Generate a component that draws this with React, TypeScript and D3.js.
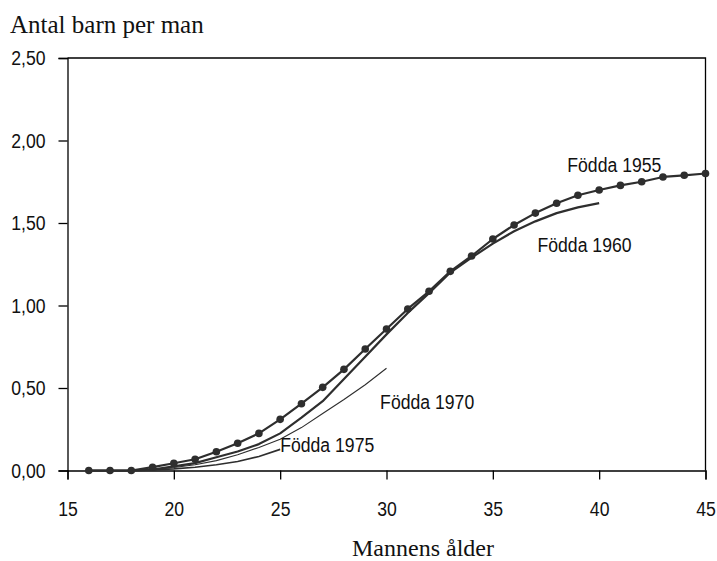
import { useEffect, useRef } from 'react';
import * as d3 from 'd3';

const ages1955 = [16, 17, 18, 19, 20, 21, 22, 23, 24, 25, 26, 27, 28, 29, 30, 31, 32, 33, 34, 35, 36, 37, 38, 39, 40, 41, 42, 43, 44, 45];
const values1955 = [0, 0, 0, 0.02, 0.044, 0.068, 0.114, 0.165, 0.225, 0.31, 0.405, 0.504, 0.613, 0.736, 0.858, 0.979, 1.086, 1.207, 1.3, 1.403, 1.488, 1.56, 1.62, 1.668, 1.7, 1.728, 1.75, 1.779, 1.789, 1.8];

const ages1960 = [16, 17, 18, 19, 20, 21, 22, 23, 24, 25, 26, 27, 28, 29, 30, 31, 32, 33, 34, 35, 36, 37, 38, 39, 40];
const values1960 = [0, 0, 0, 0.005, 0.025, 0.045, 0.08, 0.115, 0.16, 0.225, 0.32, 0.42, 0.555, 0.69, 0.825, 0.955, 1.075, 1.2, 1.29, 1.375, 1.45, 1.51, 1.56, 1.595, 1.62];

const ages1970 = [19, 20, 21, 22, 23, 24, 25, 26, 27, 28, 29, 30];
const values1970 = [0.005, 0.018, 0.035, 0.06, 0.095, 0.14, 0.19, 0.26, 0.345, 0.43, 0.52, 0.62];

const ages1975 = [19, 20, 21, 22, 23, 24, 25];
const values1975 = [0.003, 0.01, 0.02, 0.035, 0.055, 0.085, 0.128];

const xTicks = [15, 20, 25, 30, 35, 40, 45];
const yTicks = [0, 0.5, 1, 1.5, 2, 2.5];

// label anchors in data units (age, value)
const seriesLabels = [
  { text: 'Födda 1955', age: 38.5, value: 1.81 },
  { text: 'Födda 1960', age: 37.1, value: 1.322 },
  { text: 'Födda 1970', age: 29.7, value: 0.37 },
  { text: 'Födda 1975', age: 25.0, value: 0.114 },
];

const App = () => {
  const svgRef = useRef<SVGSVGElement>(null);

  useEffect(() => {
    if (!svgRef.current) return;
    const svg = d3.select(svgRef.current);
    svg.selectAll('*').remove();

    const width = 717;
    const height = 561;
    const margin = { top: 58, right: 11.5, bottom: 90.5, left: 67.5 };
    const sans = '"Liberation Sans", Arial, sans-serif';
    const serif = '"Liberation Serif", "Times New Roman", serif';
    const ink = '#2e2e2e';
    const squeeze = 0.84; // narrow sans look

    svg.attr('width', width).attr('height', height);

    const x = d3.scaleLinear().domain([15, 45]).range([margin.left, width - margin.right]);
    const y = d3.scaleLinear().domain([0, 2.5]).range([height - margin.bottom, margin.top]);
    const fmt = (d: number) => d3.format('.2f')(d).replace('.', ',');

    // move x/y into a transform so the glyphs can be squeezed horizontally
    const narrow = (sel: d3.Selection<any, any, any, any>) => {
      sel.each(function () {
        const t = d3.select(this);
        const tx = +(t.attr('x') || 0);
        const ty = +(t.attr('y') || 0);
        t.attr('x', 0).attr('y', 0)
          .attr('transform', `translate(${tx},${ty}) scale(${squeeze},1)`);
      });
    };

    // frame (top and right)
    svg.append('path')
      .attr('d', `M${x(15)},${y(2.5)}H${x(45)}V${y(0)}`)
      .attr('fill', 'none')
      .attr('stroke', '#000')
      .attr('stroke-width', 1.3);

    // Axes
    const yAxis = svg.append('g')
      .attr('transform', `translate(${x(15)},0)`)
      .call(d3.axisLeft(y).tickValues(yTicks).tickFormat(d => fmt(+d)).tickSize(9).tickPadding(13));
    const xAxis = svg.append('g')
      .attr('transform', `translate(0,${y(0)})`)
      .call(d3.axisBottom(x).tickValues(xTicks).tickFormat(d => String(d)).tickSize(9).tickPadding(22));

    [yAxis, xAxis].forEach(a => {
      a.select('.domain').attr('stroke', '#000').attr('stroke-width', 1.3);
      a.selectAll('.tick line').attr('stroke', '#000').attr('stroke-width', 1.3);
      const txt = a.selectAll('text')
        .attr('fill', '#111')
        .style('font-family', sans)
        .style('font-size', '21px');
      narrow(txt);
    });

    const line = d3.line<[number, number]>()
      .x(d => x(d[0]))
      .y(d => y(d[1]));

    const series = [
      { ages: ages1975, values: values1975, w: 1.6 },
      { ages: ages1970, values: values1970, w: 1.1 },
      { ages: ages1960, values: values1960, w: 2.2 },
      { ages: ages1955, values: values1955, w: 2.2 },
    ];

    series.forEach(s => {
      const pts = s.ages.map((a, i) => [a, s.values[i]] as [number, number]);
      svg.append('path')
        .datum(pts)
        .attr('d', line)
        .attr('fill', 'none')
        .attr('stroke', ink)
        .attr('stroke-width', s.w)
        .attr('stroke-linejoin', 'round');
    });

    // 1955 markers
    svg.selectAll('.dot')
      .data(ages1955.map((a, i) => [a, values1955[i]]))
      .enter()
      .append('circle')
      .attr('class', 'dot')
      .attr('cx', d => x(d[0]))
      .attr('cy', d => y(d[1]))
      .attr('r', 3.8)
      .attr('fill', ink);

    // Series labels
    const labels = svg.selectAll('.slabel')
      .data(seriesLabels)
      .enter()
      .append('text')
      .attr('class', 'slabel')
      .attr('x', d => x(d.age))
      .attr('y', d => y(d.value))
      .attr('fill', '#111')
      .style('font-family', sans)
      .style('font-size', '21px')
      .text(d => d.text);
    narrow(labels);

    // Axis titles
    svg.append('text')
      .attr('x', 10)
      .attr('y', 33)
      .attr('fill', '#111')
      .style('font-family', serif)
      .style('font-size', '25px')
      .text('Antal barn per man');

    svg.append('text')
      .attr('x', 423)
      .attr('y', 556)
      .attr('text-anchor', 'middle')
      .attr('fill', '#111')
      .style('font-family', serif)
      .style('font-size', '24px')
      .text('Mannens ålder');
  }, []);

  return (
    <div style={{ position: 'absolute', left: 0, top: 0 }}>
      <svg ref={svgRef} style={{ display: 'block' }} />
    </div>
  );
};

export default App;
